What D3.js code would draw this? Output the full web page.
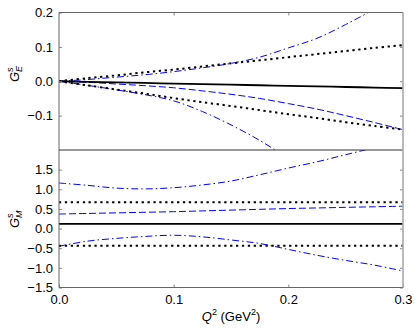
<!DOCTYPE html>
<html lang="en">
<head>
<meta charset="UTF-8">
<title>Strange form factors</title>
<script src="https://d3js.org/d3.v7.min.js"></script>
<style>
    body { margin: 0; background: white; }
    text { font-family: "Liberation Sans", Arial, sans-serif; }
    .tick text { font-size: 13px; fill: black; }
    .tick line { stroke: #888; }
    .domain { display: none; }
</style>
</head>
<body>
<svg id="chart"></svg>
<script>
// Q^2 grid (GeV^2)
var q2 = [0, 0.025, 0.05, 0.075, 0.1, 0.125, 0.15, 0.175, 0.2, 0.225, 0.25, 0.275, 0.3];

// G_E^s curves
var geSolid     = [0, -0.0017, -0.0033, -0.005, -0.0067, -0.0083, -0.01, -0.0117, -0.0133, -0.015, -0.0167, -0.0183, -0.02];
var geDotUp     = [0, 0.009, 0.017, 0.026, 0.034, 0.043, 0.052, 0.061, 0.070, 0.079, 0.088, 0.097, 0.105];
var geDotLo     = [0, -0.012, -0.024, -0.036, -0.049, -0.061, -0.072, -0.084, -0.096, -0.107, -0.119, -0.130, -0.141];
var geDashDotUp = [0, 0.005, 0.012, 0.019, 0.028, 0.039, 0.052, 0.07, 0.097, 0.125, 0.165, 0.21, 0.26];
var geDashLo    = [0, -0.003, -0.008, -0.013, -0.019, -0.028, -0.038, -0.05, -0.065, -0.081, -0.1, -0.12, -0.141];
var geDashDotLo = [0, -0.012, -0.025, -0.039, -0.057, -0.088, -0.127, -0.172, -0.225, -0.28, -0.34, -0.40, -0.47];

// G_M^s curves
var gmSolid     = [0.12, 0.12, 0.12, 0.12, 0.12, 0.12, 0.12, 0.12, 0.12, 0.12, 0.12, 0.12, 0.12];
var gmDotUp     = [0.67, 0.67, 0.67, 0.67, 0.67, 0.67, 0.67, 0.67, 0.67, 0.67, 0.67, 0.67, 0.67];
var gmDotLo     = [-0.44, -0.44, -0.44, -0.44, -0.44, -0.44, -0.44, -0.44, -0.44, -0.44, -0.44, -0.44, -0.44];
var gmDash      = [0.37, 0.385, 0.40, 0.415, 0.43, 0.45, 0.47, 0.49, 0.51, 0.525, 0.54, 0.555, 0.57];
var gmDashDotUp = [1.16, 1.10, 1.03, 1.01, 1.04, 1.11, 1.21, 1.37, 1.54, 1.70, 1.88, 2.06, 2.25];
var gmDashDotLo = [-0.45, -0.32, -0.25, -0.20, -0.17, -0.21, -0.29, -0.38, -0.53, -0.68, -0.81, -0.93, -1.08];

// tick values
var xTicks = [0, 0.1, 0.2, 0.3];
var geTicks = [-0.1, 0, 0.1, 0.2];
var gmTicks = [-1.5, -1, -0.5, 0, 0.5, 1, 1.5];

(function() {
var svgWidth = 415, svgHeight = 332;
var pLeft = 59, pRight = 403, pTop = 12.5, pMid = 150, pBottom = 287.5;

var svg = d3.select("#chart").attr("width", svgWidth).attr("height", svgHeight);

var xs = d3.scaleLinear().domain([0, 0.3]).range([pLeft, pRight]);
var yE = d3.scaleLinear().domain([-0.2, 0.2]).range([pMid, pTop]);
var yM = d3.scaleLinear().domain([-1.5, 2]).range([pBottom, pMid]);

var styles = {
    solid:   { stroke: "black", width: 1.8, dash: null },
    dot:     { stroke: "black", width: 2, dash: "2.3,3.6" },
    dash:    { stroke: "#0000ff", width: 1, dash: "7,3" },
    dashdot: { stroke: "#0000ff", width: 1, dash: "7,3,1.5,3" }
};

function panel(name, ys, y0, y1, series) {
    svg.append("clipPath").attr("id", "clip-" + name)
        .append("rect")
        .attr("x", pLeft).attr("y", y0)
        .attr("width", pRight - pLeft).attr("height", y1 - y0);

    var g = svg.append("g").attr("clip-path", "url(#clip-" + name + ")");
    var line = d3.line()
        .x(function(d) { return xs(d[0]); })
        .y(function(d) { return ys(d[1]); })
        .curve(d3.curveCatmullRom);

    series.forEach(function(s) {
        var st = styles[s.style];
        g.append("path")
            .datum(q2.map(function(v, i) { return [v, s.values[i]]; }))
            .attr("d", line)
            .attr("fill", "none")
            .attr("stroke", st.stroke)
            .attr("stroke-width", st.width)
            .attr("stroke-dasharray", st.dash);
    });
}

panel("ge", yE, pTop, pMid, [
    { values: geDashLo, style: "dash" },
    { values: geDashDotUp, style: "dashdot" },
    { values: geDashDotLo, style: "dashdot" },
    { values: geDotUp, style: "dot" },
    { values: geDotLo, style: "dot" },
    { values: geSolid, style: "solid" }
]);

panel("gm", yM, pMid, pBottom, [
    { values: gmDash, style: "dash" },
    { values: gmDashDotUp, style: "dashdot" },
    { values: gmDashDotLo, style: "dashdot" },
    { values: gmDotUp, style: "dot" },
    { values: gmDotLo, style: "dot" },
    { values: gmSolid, style: "solid" }
]);

// y axes (ticks inside)
svg.append("g").attr("transform", "translate(" + pLeft + ",0)")
    .call(d3.axisLeft(yE).tickValues(geTicks).tickSize(-3).tickPadding(6).tickFormat(d3.format(".1f")));
svg.append("g").attr("transform", "translate(" + pLeft + ",0)")
    .call(d3.axisLeft(yM).tickValues(gmTicks).tickSize(-3).tickPadding(6).tickFormat(d3.format(".1f")));
svg.append("g").attr("transform", "translate(" + pRight + ",0)")
    .call(d3.axisRight(yE).tickValues([-0.1, 0, 0.1]).tickSize(-3).tickFormat(""));
svg.append("g").attr("transform", "translate(" + pRight + ",0)")
    .call(d3.axisRight(yM).tickValues(gmTicks).tickSize(-3).tickFormat(""));

// x axes
svg.append("g").attr("transform", "translate(0," + pBottom + ")")
    .call(d3.axisBottom(xs).tickValues(xTicks).tickSize(-3).tickPadding(7).tickFormat(d3.format(".1f")));
svg.append("g").attr("transform", "translate(0," + pTop + ")")
    .call(d3.axisTop(xs).tickValues([0.1, 0.2]).tickSize(-3).tickFormat(""));

// frame
svg.append("line").attr("x1", pLeft).attr("x2", pLeft).attr("y1", pTop).attr("y2", pBottom)
    .attr("stroke", "#666").attr("stroke-width", 1);
svg.append("line").attr("x1", pLeft).attr("x2", pRight).attr("y1", pTop).attr("y2", pTop)
    .attr("stroke", "#666").attr("stroke-width", 1);
svg.append("line").attr("x1", pLeft).attr("x2", pRight).attr("y1", pMid).attr("y2", pMid)
    .attr("stroke", "#333").attr("stroke-width", 1);
svg.append("line").attr("x1", pLeft).attr("x2", pRight).attr("y1", pBottom).attr("y2", pBottom)
    .attr("stroke", "#666").attr("stroke-width", 1);
svg.append("line").attr("x1", pRight).attr("x2", pRight).attr("y1", pTop).attr("y2", pBottom)
    .attr("stroke", "#aaa").attr("stroke-width", 1.6);

// axis labels
function ylabel(x, y, sub) {
    var t = svg.append("text")
        .attr("transform", "translate(" + x + "," + y + ") rotate(-90)")
        .attr("font-size", 13).attr("font-style", "italic");
    t.append("tspan").text("G");
    t.append("tspan").attr("font-size", 9).attr("dy", -6).text("s");
    t.append("tspan").attr("font-size", 9).attr("dx", -4.5).attr("dy", 9).text(sub);
}
ylabel(18.5, 82, "E");
ylabel(18.5, 228, "M");

var xl = svg.append("text")
    .attr("x", 231).attr("y", 321)
    .attr("text-anchor", "middle")
    .attr("font-size", 13);
xl.append("tspan").attr("font-style", "italic").text("Q");
xl.append("tspan").attr("font-size", 9).attr("dy", -6).text("2");
xl.append("tspan").attr("dy", 6).text(" (GeV");
xl.append("tspan").attr("font-size", 9).attr("dy", -6).text("2");
xl.append("tspan").attr("dy", 6).text(")");
})();
</script>
</body>
</html>
